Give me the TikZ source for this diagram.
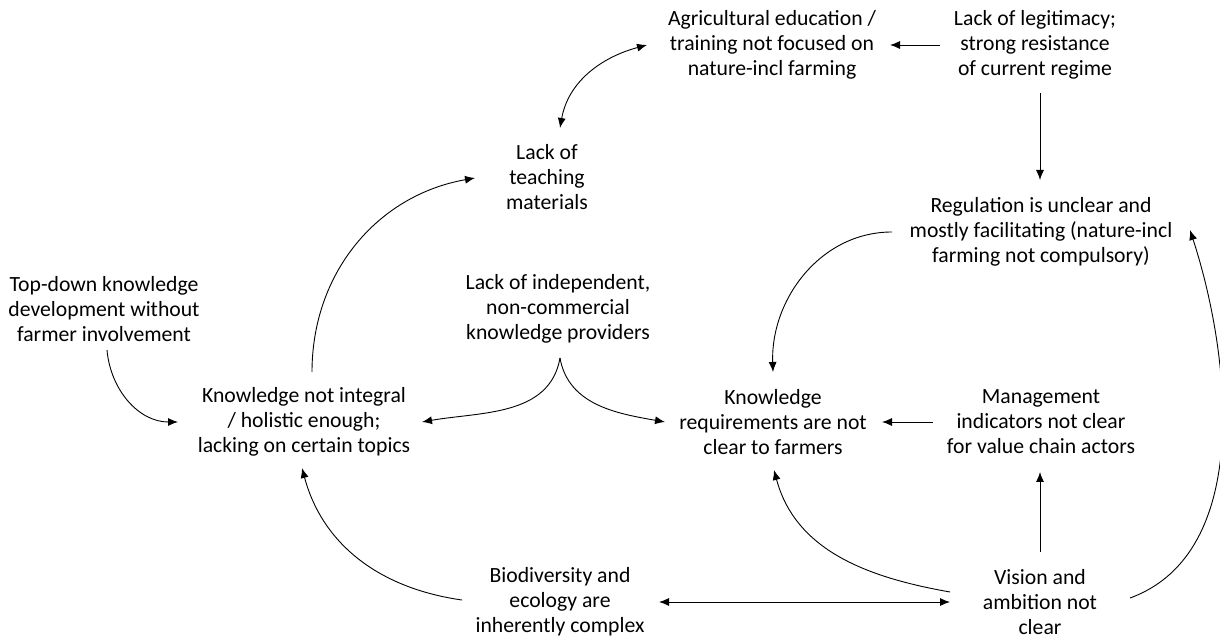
\documentclass[tikz,border=0pt]{standalone}
\usepackage{fontspec}
\setmainfont{Carlito}
\usetikzlibrary{arrows.meta,calc}

\begin{document}
\begin{tikzpicture}[x=1pt,y=1pt,
    barrier/.style={align=center,inner sep=0pt,font=\fontsize{21.7}{25}\selectfont},
    link/.style={line width=0.9pt,-{Latex[length=10pt,width=8pt]}},
    twoway/.style={line width=0.9pt,{Latex[length=10pt,width=8pt]}-{Latex[length=10pt,width=8pt]}}]
    \useasboundingbox (0,0) rectangle (1220,640);
    % the barriers
    \node[barrier] (agri)   at (772,595)  {Agricultural education /\\training not focused on\\nature-incl farming};
    \node[barrier] (legit)  at (1035,595) {Lack of legitimacy;\\strong resistance\\of current regime};
    \node[barrier] (teach)  at (547,463)  {Lack of\\teaching\\materials};
    \node[barrier] (regul)  at (1041,408) {Regulation is unclear and\\mostly facilitating (nature-incl\\farming not compulsory)};
    \node[barrier] (topdown) at (104,331) {Top-down knowledge\\development without\\farmer involvement};
    \node[barrier] (indep)  at (558,331)  {Lack of independent,\\non-commercial\\knowledge providers};
    \node[barrier] (kni)    at (304,218)  {Knowledge not integral\\/ holistic enough;\\lacking on certain topics};
    \node[barrier] (kreq)   at (773,218)  {Knowledge\\requirements are not\\clear to farmers};
    \node[barrier] (mgmt)   at (1041,218) {Management\\indicators not clear\\for value chain actors};
    \node[barrier] (bio)    at (560,38)   {Biodiversity and\\ecology are\\inherently complex};
    \node[barrier] (vision) at (1040,38)  {Vision and\\ambition not\\clear};
    % straight links
    \draw[link] ($(legit)+(-95,0)$) -- ($(agri)+(118,0)$);
    \draw[link] ($(legit)+(5,-48)$) -- ($(regul)+(-1,52)$);
    \draw[link] ($(mgmt)+(-108,0)$) -- ($(kreq)+(109,0)$);
    \draw[link] ($(vision)+(0,50)$) -- ($(mgmt)+(-1,-50)$);
    \draw[twoway] ($(bio)+(99,0)$) -- ($(vision)+(-90,0)$);
    % curved links
    \draw[twoway] ($(teach)+(13,49)$) to[out=80,in=195] ($(agri)+(-125,0)$);
    \draw[link] ($(kni)+(8,50)$) to[out=90,in=190] ($(teach)+(-72,-1)$);
    \draw[link] ($(topdown)+(3,-41)$) to[out=-85,in=180] ($(kni)+(-126,0)$);
    \draw[link] ($(indep)+(2,-49)$) to[out=260,in=10] ($(kni)+(118,0)$);
    \draw[link] ($(indep)+(2,-49)$) to[out=280,in=170] ($(kreq)+(-108,0)$);
    \draw[link] ($(regul)+(-149,0)$) to[out=180,in=92] ($(kreq)+(0,50)$);
    \draw[link] ($(vision)+(-90,10)$) to[out=170,in=285] ($(kreq)+(1,-48)$);
    \draw[link] ($(bio)+(-98,2)$) to[out=172,in=285] ($(kni)+(-2,-46)$);
    \draw[link] ($(vision)+(90,4)$) to[out=20,in=-72,looseness=0.9] ($(regul)+(149,2)$);
\end{tikzpicture}
\end{document}
